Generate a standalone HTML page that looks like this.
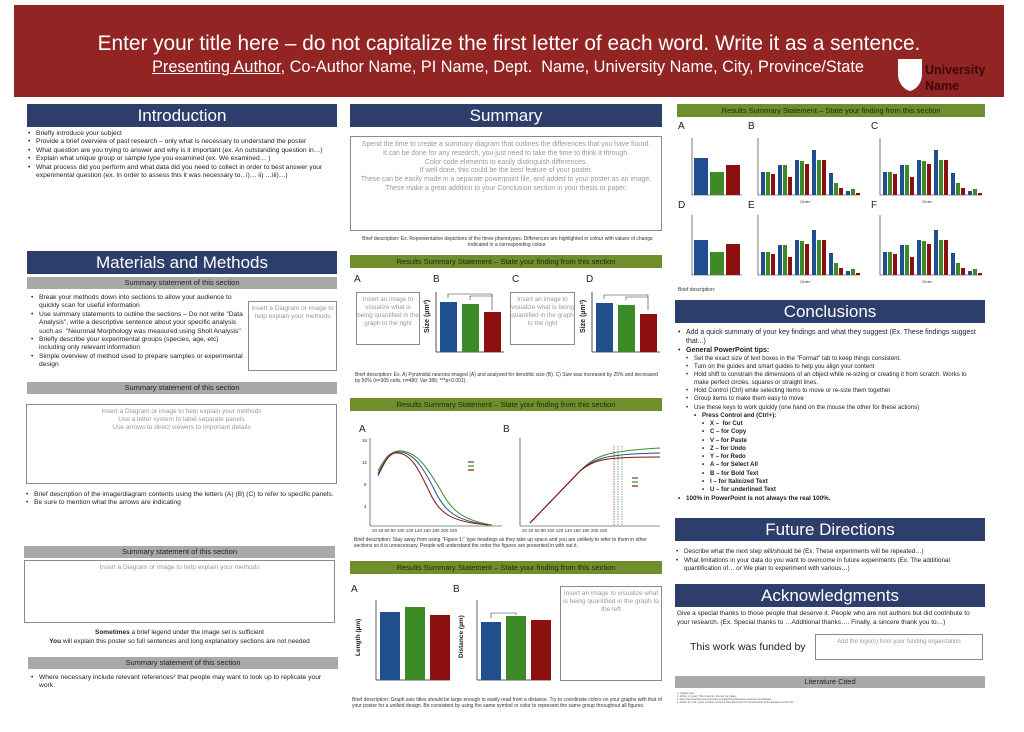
<!DOCTYPE html>
<html><head><meta charset="utf-8"><style>
*{margin:0;padding:0;box-sizing:border-box}
body{width:1024px;height:732px;background:#fff;position:relative;overflow:hidden;font-family:"Liberation Sans",sans-serif;color:#222}
.a{position:absolute}
.hd{position:absolute;background:#2e3e6c;color:#fff;text-align:center;font-size:17px;line-height:23px}
.gb{position:absolute;background:#a9a9a9;color:#222;text-align:center;font-size:7.5px;line-height:12px}
.gr{position:absolute;background:#6f8e2c;color:#1e2a0c;text-align:center;font-size:7.5px;line-height:13px}
.bx{position:absolute;border:1.5px solid #8a8a8a;color:#999;text-align:center;font-size:6.5px;line-height:8px;padding-top:3px}
ul{list-style:none}
li{position:relative;padding-left:9px;font-size:6.3px;line-height:7.6px}
li:before{content:"•";position:absolute;left:1px}
.cap{position:absolute;font-size:5px;line-height:6px;color:#333}
.L{position:absolute;font-size:10px;color:#222}
.c1 li{font-size:6.7px;line-height:8.4px}
.s li{font-size:6.1px;line-height:8.1px}
.k li{font-size:6.1px;line-height:8.3px}
</style></head><body>

<div class="a" style="left:14px;top:5px;width:990px;height:92px;background:#932424"></div>
<div class="a" style="left:14px;top:32px;width:990px;text-align:center;color:#fff;font-size:20.8px">Enter your title here – do not capitalize the first letter of each word. Write it as a sentence.</div>
<div class="a" style="left:-4px;top:58px;width:1024px;text-align:center;color:#fff;font-size:16.3px"><span style="text-decoration:underline">Presenting Author</span>, Co-Author Name, PI Name, Dept.&nbsp; Name, University Name, City, Province/State</div>
<svg class="a" style="left:897px;top:58px" width="26" height="34"><path d="M1 1H25V16C25 26 18 32 13 33C8 32 1 26 1 16Z" fill="#fff"/></svg>
<div class="a" style="left:925px;top:62px;color:#3a0a0a;font-weight:bold;font-size:12.5px;line-height:16px">University<br>Name</div>

<!-- column 1 -->
<div class="hd" style="left:27px;top:104px;width:310px">Introduction</div>
<ul class="a c1" style="left:27px;top:130px;width:312px"><li>Briefly introduce your subject</li><li>Provide a brief overview of past research – only what is necessary to understand the poster</li><li>What question are you trying to answer and why is it important (ex. An outstanding question in…)</li><li>Explain what unique group or sample type you examined (ex. We examined… )</li><li>What process did you perform and what data did you need to collect in order to best answer your experimental question (ex. In order to assess this it was necessary to.. i)… ii) …iii)…)</li></ul>
<div class="hd" style="left:27px;top:251px;width:310px">Materials and Methods</div>
<div class="gb" style="left:27px;top:277px;width:310px">Summary statement of this section</div>
<ul class="a c1" style="left:30px;top:294px;width:215px"><li>Break your methods down into sections to allow your audience to quickly scan for useful information</li><li>Use summary statements to outline the sections – Do not write "Data Analysis", write a descriptive sentence about your specific analysis such as&nbsp; "Neuronal Morphology was measured using Sholl Analysis"</li><li>Briefly describe your experimental groups (species, age, etc) including only relevant information</li><li>Simple overview of method used to prepare samples or experimental design</li></ul>
<div class="bx" style="left:248px;top:301px;width:89px;height:70px">Insert a Diagram or image to help explain your methods</div>
<div class="gb" style="left:27px;top:382px;width:310px">Summary statement of this section</div>
<div class="bx" style="left:26px;top:404px;width:311px;height:80px">Insert a Diagram or image to help explain your methods<br>Use a letter system to label separate panels<br>Use arrows to direct viewers to important details</div>
<ul class="a c1" style="left:25px;top:491px;width:312px"><li>Brief description of the image/diagram contents using the letters (A) (B) (C) to refer to specific panels.</li><li>Be sure to mention what the arrows are indicating</li></ul>
<div class="gb" style="left:24px;top:546px;width:311px">Summary statement of this section</div>
<div class="bx" style="left:24px;top:560px;width:311px;height:63px">Insert a Diagram or image to help explain your methods</div>
<div class="a" style="left:24px;top:629px;width:311px;text-align:center;font-size:6.5px;line-height:8.5px"><b>Sometimes</b> a brief legend under the image set is sufficient<br><b>You</b> will explain this poster so full sentences and long explanatory sections are not needed</div>
<div class="gb" style="left:28px;top:657px;width:310px">Summary statement of this section</div>
<ul class="a c1" style="left:30px;top:674px;width:305px"><li>Where necessary include relevant references² that people may want to look up to replicate your work.</li></ul>

<!-- column 2 -->
<div class="hd" style="left:350px;top:104px;width:312px">Summary</div>
<div class="bx" style="left:350px;top:136px;width:312px;height:95px;font-size:6.9px;line-height:8.8px;padding-top:4px">Spend the time to create a summary diagram that outlines the differences that you have found.<br>It can be done for any research, you just need to take the time to think it through.<br>Color code elements to easily distinguish differences.<br>If well done, this could be the best feature of your poster.<br>These can be easily made in a separate powerpoint file, and added to your poster as an image.<br>These make a great addition to your Conclusion section in your thesis or paper.</div>
<div class="cap" style="left:355px;top:236px;width:305px;text-align:center">Brief description: Ex. Representative depictions of the three phenotypes. Differences are highlighted in colour with values of change indicated in a corresponding colour.</div>
<div class="gr" style="left:350px;top:255px;width:312px">Results Summary Statement – State your finding from this section</div>
<div class="L" style="left:354px;top:274px">A</div><div class="L" style="left:433px;top:274px">B</div><div class="L" style="left:512px;top:274px">C</div><div class="L" style="left:586px;top:274px">D</div>
<div class="bx" style="left:356px;top:292px;width:64px;height:53px;font-size:6.3px">Insert an image to visualize what is being quantified in the graph to the right</div>
<div class="bx" style="left:510px;top:292px;width:65px;height:53px;font-size:6.3px">Insert an image to visualize what is being quantified in the graph to the right</div>
<svg class="a" style="left:422px;top:288px" width="85" height="68">
<text x="7" y="45" font-size="7" font-weight="bold" transform="rotate(-90 7 45)" fill="#222">Size (µm²)</text>
<line x1="14" y1="4" x2="14" y2="64" stroke="#222" stroke-width=".8"/><line x1="14" y1="64" x2="82" y2="64" stroke="#222" stroke-width=".8"/>
<rect x="18" y="14" width="17" height="50" fill="#1f4f8f"/><rect x="40" y="16" width="17" height="48" fill="#3d8b26"/><rect x="62" y="24" width="17" height="40" fill="#8d1010"/>
<path d="M26 10V6H70V22M48 12V8H70" fill="none" stroke="#333" stroke-width=".6"/></svg>
<svg class="a" style="left:578px;top:288px" width="85" height="68">
<text x="7" y="45" font-size="7" font-weight="bold" transform="rotate(-90 7 45)" fill="#222">Size (µm²)</text>
<line x1="14" y1="4" x2="14" y2="64" stroke="#222" stroke-width=".8"/><line x1="14" y1="64" x2="82" y2="64" stroke="#222" stroke-width=".8"/>
<rect x="18" y="15" width="17" height="49" fill="#1f4f8f"/><rect x="40" y="17" width="17" height="47" fill="#3d8b26"/><rect x="62" y="26" width="17" height="38" fill="#8d1010"/>
<path d="M26 11V7H70V22M48 12V9H70" fill="none" stroke="#333" stroke-width=".6"/></svg>
<div class="cap" style="left:355px;top:372px;width:305px">Brief description: Ex. A) Pyramidal neurons imaged (A) and analysed for dendritic size (B). C) Size was increased by 25% and decreased by 50% (n=365 cells, n=480; Var 386; ***p&lt;0.001).</div>
<div class="gr" style="left:350px;top:398px;width:312px">Results Summary Statement – State your finding from this section</div>
<div class="L" style="left:359px;top:424px">A</div><div class="L" style="left:503px;top:424px">B</div>
<svg class="a" style="left:360px;top:436px" width="145" height="100">
<line x1="10" y1="2" x2="10" y2="90" stroke="#222" stroke-width=".6"/><line x1="10" y1="90" x2="142" y2="90" stroke="#222" stroke-width=".6"/>
<g font-size="4.5" fill="#333"><text x="2" y="6">16</text><text x="2" y="28">12</text><text x="4" y="50">8</text><text x="4" y="72">4</text><text x="12" y="96">20 40 60 80 100 120 140 160 180 200 220</text></g>
<path d="M18 40C25 25 30 15 40 16C55 17 65 35 75 55C85 75 95 85 130 89" fill="none" stroke="#1f4f8f" stroke-width="1"/>
<path d="M18 35C25 22 30 14 42 15C58 17 68 33 80 53C90 72 100 84 132 89" fill="none" stroke="#3d8b26" stroke-width="1"/>
<path d="M18 38C25 24 30 16 38 17C52 18 60 36 70 57C80 78 92 86 128 89" fill="none" stroke="#8d1010" stroke-width="1"/>
<g stroke-width="1.2"><line x1="108" y1="26" x2="114" y2="26" stroke="#1f4f8f"/><line x1="108" y1="30" x2="114" y2="30" stroke="#3d8b26"/><line x1="108" y1="34" x2="114" y2="34" stroke="#8d1010"/></g></svg>
<svg class="a" style="left:510px;top:436px" width="152" height="100">
<line x1="10" y1="2" x2="10" y2="90" stroke="#222" stroke-width=".6"/><line x1="10" y1="90" x2="150" y2="90" stroke="#222" stroke-width=".6"/>
<g font-size="4.5" fill="#333"><text x="12" y="96">20 40 60 80 100 120 140 160 180 200 220</text></g>
<path d="M20 87L70 35C85 20 95 15 150 12" fill="none" stroke="#3d8b26" stroke-width="1"/>
<path d="M20 87L70 35C85 22 95 18 150 17" fill="none" stroke="#1f4f8f" stroke-width="1"/>
<path d="M20 87L70 35C85 23 95 21 150 21" fill="none" stroke="#8d1010" stroke-width="1"/>
<g stroke-dasharray="1.5 1" stroke-width=".6"><line x1="104" y1="10" x2="104" y2="90" stroke="#8d1010"/><line x1="108" y1="10" x2="108" y2="90" stroke="#1f4f8f"/><line x1="112" y1="10" x2="112" y2="90" stroke="#3d8b26"/></g>
<g stroke-width="1.2"><line x1="122" y1="42" x2="128" y2="42" stroke="#1f4f8f"/><line x1="122" y1="46" x2="128" y2="46" stroke="#3d8b26"/><line x1="122" y1="50" x2="128" y2="50" stroke="#8d1010"/></g></svg>
<div class="cap" style="left:354px;top:537px;width:308px">Brief description: Stay away from using "Figure 1:" type headings as they take up space and you are unlikely to refer to them in other sections so it is unnecessary. People will understand the order the figures are presented in with out it.</div>
<div class="gr" style="left:350px;top:561px;width:312px">Results Summary Statement – State your finding from this section</div>
<div class="L" style="left:351px;top:584px">A</div><div class="L" style="left:453px;top:584px">B</div>
<svg class="a" style="left:352px;top:596px" width="100" height="90">
<text x="8" y="60" font-size="6.5" font-weight="bold" transform="rotate(-90 8 60)" fill="#222">Length (µm)</text>
<line x1="24" y1="4" x2="24" y2="84" stroke="#222" stroke-width=".7"/><line x1="24" y1="84" x2="98" y2="84" stroke="#222" stroke-width=".7"/>
<rect x="28" y="16" width="20" height="68" fill="#1f4f8f"/><rect x="53" y="11" width="20" height="73" fill="#3d8b26"/><rect x="78" y="19" width="20" height="65" fill="#8d1010"/></svg>
<svg class="a" style="left:455px;top:596px" width="100" height="90">
<text x="8" y="62" font-size="6.5" font-weight="bold" transform="rotate(-90 8 62)" fill="#222">Distance (µm)</text>
<line x1="22" y1="4" x2="22" y2="84" stroke="#222" stroke-width=".7"/><line x1="22" y1="84" x2="96" y2="84" stroke="#222" stroke-width=".7"/>
<rect x="26" y="26" width="20" height="58" fill="#1f4f8f"/><rect x="51" y="20" width="20" height="64" fill="#3d8b26"/><rect x="76" y="24" width="20" height="60" fill="#8d1010"/>
<path d="M36 22V17H61V19" fill="none" stroke="#333" stroke-width=".6"/></svg>
<div class="bx" style="left:560px;top:586px;width:102px;height:95px">Insert an image to visualize what is being quantified in the graph to the left</div>
<div class="cap" style="left:352px;top:697px;width:310px">Brief description: Graph axis titles should be large enough to easily read from a distance. Try to coordinate colors on your graphs with that of your poster for a unified design. Be consistent by using the same symbol or color to represent the same group throughout all figures.</div>

<!-- column 3 -->
<div class="gr" style="left:677px;top:104px;width:308px">Results Summary Statement – State your finding from this section</div>
<div class="L" style="left:678px;top:121px">A</div><div class="L" style="left:748px;top:121px">B</div><div class="L" style="left:871px;top:121px">C</div>
<div class="L" style="left:678px;top:200px">D</div><div class="L" style="left:748px;top:200px">E</div><div class="L" style="left:871px;top:200px">F</div>
<svg class="a" style="left:680px;top:130px" width="305" height="160">
<g fill="none" stroke="#222" stroke-width=".6">
<path d="M12 8V65H62"/><path d="M78 8V65H180"/><path d="M200 8V65H302"/>
<path d="M12 85V145H62"/><path d="M78 85V145H180"/><path d="M200 85V145H302"/></g>
<rect x="14" y="28" width="14" height="37" fill="#1f4f8f"/><rect x="30" y="42" width="14" height="23" fill="#3d8b26"/><rect x="46" y="35" width="14" height="30" fill="#8d1010"/>
<rect x="14" y="110" width="14" height="35" fill="#1f4f8f"/><rect x="30" y="122" width="14" height="23" fill="#3d8b26"/><rect x="46" y="114" width="14" height="31" fill="#8d1010"/>
<g id="b"><rect x="81" y="42" width="4" height="23" fill="#1f4f8f"/><rect x="86" y="42" width="4" height="23" fill="#3d8b26"/><rect x="91" y="44" width="4" height="21" fill="#8d1010"/>
<rect x="98" y="35" width="4" height="30" fill="#1f4f8f"/><rect x="103" y="35" width="4" height="30" fill="#3d8b26"/><rect x="108" y="47" width="4" height="18" fill="#8d1010"/>
<rect x="115" y="30" width="4" height="35" fill="#1f4f8f"/><rect x="120" y="31" width="4" height="34" fill="#3d8b26"/><rect x="125" y="34" width="4" height="31" fill="#8d1010"/>
<rect x="132" y="20" width="4" height="45" fill="#1f4f8f"/><rect x="137" y="30" width="4" height="35" fill="#3d8b26"/><rect x="142" y="30" width="4" height="35" fill="#8d1010"/>
<rect x="149" y="43" width="4" height="22" fill="#1f4f8f"/><rect x="154" y="53" width="4" height="12" fill="#3d8b26"/><rect x="159" y="58" width="4" height="7" fill="#8d1010"/>
<rect x="166" y="61" width="4" height="4" fill="#1f4f8f"/><rect x="171" y="59" width="4" height="6" fill="#3d8b26"/><rect x="176" y="63" width="4" height="2" fill="#8d1010"/></g>
<use href="#b" x="122" y="0"/><use href="#b" x="0" y="80"/><use href="#b" x="122" y="80"/>
<g font-size="4" fill="#333"><text x="120" y="73">Order</text><text x="242" y="73">Order</text><text x="120" y="153">Order</text><text x="242" y="153">Order</text></g></svg>
<div class="cap" style="left:678px;top:287px">Brief description:</div>
<div class="hd" style="left:675px;top:300px;width:310px">Conclusions</div>
<ul class="a" style="left:677px;top:328px;width:305px">
<li style="font-size:7px;line-height:9px">Add a quick summary of your key findings and what they suggest (Ex. These findings suggest that...)</li>
<li style="font-size:7px;line-height:9px"><b>General PowerPoint tips:</b></li>
<ul class="s" style="margin-left:8px">
<li>Set the exact size of text boxes in the "Format" tab to keep things consistent.</li>
<li>Turn on the guides and smart guides to help you align your content</li>
<li>Hold shift to constrain the dimensions of an object while re-sizing or creating it from scratch. Works to make perfect circles, squares or straight lines.</li>
<li>Hold Control (Ctrl) while selecting items to move or re-size them together</li>
<li>Group items to make them easy to move</li>
<li>Use these keys to work quickly (one hand on the mouse the other for these actions)</li>
<ul class="k" style="margin-left:8px;font-weight:bold">
<li>Press Control and (Ctrl+):</li>
<ul class="k" style="margin-left:8px">
<li>X –&nbsp; for Cut</li><li>C – for Copy</li><li>V – for Paste</li><li>Z – for Undo</li><li>Y – for Redo</li><li>A – for Select All</li><li>B – for Bold Text</li><li>I – for Italicized Text</li><li>U – for underlined Text</li></ul></ul></ul>
<li style="font-size:6.3px;line-height:8.5px;font-weight:bold">100% in PowerPoint is not always the real 100%.</li></ul>
<div class="hd" style="left:675px;top:518px;width:310px">Future Directions</div>
<ul class="a" style="left:675px;top:548px;width:310px"><li style="font-size:6.3px;line-height:8.5px">Describe what the next step will/should be (Ex. These experiments will be repeated…)</li><li style="font-size:6.3px;line-height:8.5px">What limitations in your data do you want to overcome in future experiments (Ex. The additional quantification of… or We plan to experiment with various…)</li></ul>
<div class="hd" style="left:675px;top:584px;width:310px">Acknowledgments</div>
<div class="a" style="left:677px;top:610px;width:305px;font-size:6.5px;line-height:8.5px">Give a special thanks to those people that deserve it. People who are not authors but did contribute to your research. (Ex. Special thanks to …Additional thanks…. Finally, a sincere thank you to…)</div>
<div class="a" style="left:690px;top:641px;font-size:10.5px">This work was funded by</div>
<div class="bx" style="left:815px;top:634px;width:168px;height:26px;font-size:6px">Add the logo(s) from your funding organization</div>
<div class="gb" style="left:675px;top:676px;width:310px">Literature Cited</div>
<div class="a" style="left:677px;top:692px;width:200px;font-size:2.5px;line-height:3px;color:#555">1. Citation here<br>2. Author, A. (year). Title of article. Journal, vol, pages.<br>3. http://www.example.com/reference-to-supporting-document-used-here-and-citation<br>4. Author, B. et al. (year). Another reference title placed here for completeness of the literature section list.</div>
</body></html>
